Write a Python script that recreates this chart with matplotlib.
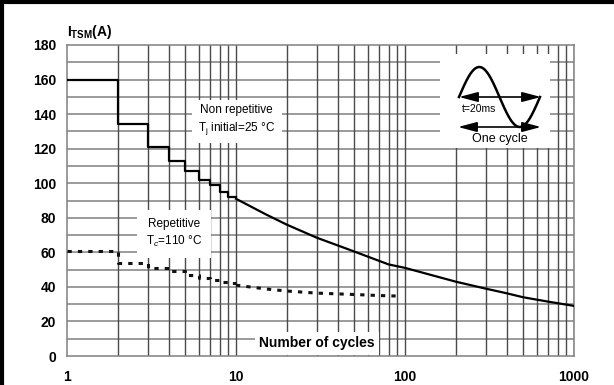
import numpy as np
import matplotlib
matplotlib.use('Agg')
import matplotlib.pyplot as plt
from matplotlib.lines import Line2D

plt.rcParams['font.family'] = ['Liberation Sans', 'DejaVu Sans']
plt.rcParams['mathtext.fontset'] = 'custom'
plt.rcParams['mathtext.rm'] = 'Liberation Sans'
plt.rcParams['mathtext.it'] = 'Liberation Sans:italic'
plt.rcParams['mathtext.bf'] = 'Liberation Sans:bold'

# Non repetitive, Tj initial = 25 °C
nonrep_step_n = [1, 2, 3, 4, 5, 6, 7, 8, 9, 10]
nonrep_step_i = [160, 134, 121, 113, 107, 102, 99, 95, 92, 92]
nonrep_n = [10, 15, 20, 30, 50, 80, 100, 200, 300, 400, 500, 700, 1000]
nonrep_i = [91, 82, 76, 68.5, 60.5, 53, 51, 43, 39, 36.3, 34, 31.5, 29]

# Repetitive, Tc = 110 °C
rep_step_n = [1, 2, 3, 4, 5, 6, 7, 8, 9, 10]
rep_step_i = [61, 54, 51, 49, 47, 45, 44, 43, 42, 42]
rep_n = [10, 15, 20, 30, 50, 70, 90]
rep_i = [41, 38.8, 37.6, 36.4, 35.6, 35.0, 34.7]

x_ticks = [1, 10, 100, 1000]
y_ticks = list(range(0, 181, 20))

fig = plt.figure(figsize=(6.14, 3.85), dpi=100, facecolor='white', edgecolor='white', linewidth=0)
ax = fig.add_axes([67 / 614, 1 - 356 / 385, 507 / 614, 311 / 385])
ax.set_facecolor('white')
ax.set_xscale('log')
ax.set_xlim(1, 1000)
ax.set_ylim(0, 180)

# grid
for v in range(10, 180, 10):
    ax.axhline(v, color='#808080', lw=1.1, zorder=1)
for dec in [1, 10, 100]:
    for k in range(2, 11):
        ax.axvline(dec * k, color='#4a4a4a', lw=1.0, zorder=1)
for s in ax.spines.values():
    s.set_color('#808080')
    s.set_linewidth(1.1)

ax.set_xticks(x_ticks)
ax.set_xticklabels([str(v) for v in x_ticks])
ax.set_xticks([], minor=True)
ax.set_yticks(y_ticks)
ax.tick_params(length=0, labelsize=10, colors='black')
ax.tick_params(axis='x', pad=10)
ax.tick_params(axis='y', pad=8)
for lab in ax.get_xticklabels() + ax.get_yticklabels():
    lab.set_fontweight('bold')

# curves
ax.plot(nonrep_step_n, nonrep_step_i, drawstyle='steps-post', color='black', lw=1.6, zorder=4)
ax.plot(nonrep_n, nonrep_i, color='black', lw=1.6, zorder=4)
ax.plot(rep_step_n, rep_step_i, drawstyle='steps-post', color='#111111', lw=2.2,
        linestyle=(0, (1.4, 2.0)), zorder=4)
ax.plot(rep_n, rep_i, color='#111111', lw=2.2, linestyle=(0, (1.4, 2.0)), zorder=4)

# labels
ax.text(10.1, 136.5, 'Non repetitive\nT$_\\mathrm{j}$ initial=25 °C', ha='center', va='center',
        fontsize=8.5, linespacing=1.35, bbox=dict(facecolor='white', edgecolor='none',
                                                  boxstyle='square,pad=0.55'), zorder=3)
ax.text(4.3, 71, 'Repetitive\nT$_{c}$=110 °C', ha='center', va='center',
        fontsize=8.5, linespacing=1.35, bbox=dict(facecolor='white', edgecolor='none',
                                                  boxstyle='square,pad=0.75'), zorder=3)
ax.text(30.2, 7.3, 'Number of cycles', ha='center', va='center', fontsize=10,
        fontweight='bold', bbox=dict(facecolor='white', edgecolor='none',
                                     boxstyle='square,pad=0.3'), zorder=3)
fig.text(67 / 614, 1 - 32 / 385, r'$\mathbf{I}_{\mathbf{TSM}}$(A)', ha='left', va='center',
         fontsize=10, fontweight='bold', color='black')

# inset sketch of one cycle
ins = fig.add_axes([440 / 614, 1 - 148 / 385, 110 / 614, 94 / 385])
ins.set_xlim(440, 550)
ins.set_ylim(148, 54)
ins.set_facecolor('white')
ins.set_xticks([])
ins.set_yticks([])
for s in ins.spines.values():
    s.set_visible(False)
xs = np.linspace(459, 540, 200)
ins.plot(xs, 97 - 30 * np.sin(2 * np.pi * (xs - 459) / 81), color='black', lw=1.8)
arrow = dict(arrowstyle='<|-|>,head_length=0.95,head_width=0.25', color='black', lw=1.2,
             mutation_scale=12, shrinkA=0, shrinkB=0)
ins.annotate('', xy=(459, 97), xytext=(541, 97), arrowprops=arrow)
ins.annotate('', xy=(458, 127), xytext=(541, 127), arrowprops=arrow)
ins.text(462, 109, 't=20ms', ha='left', va='center', fontsize=7.5)
ins.text(500, 139, 'One cycle', ha='center', va='center', fontsize=9)

# frame on top and left only
fig.add_artist(Line2D([0, 1], [1 - 2 / 385, 1 - 2 / 385], color='black', lw=3,
                      transform=fig.transFigure, solid_capstyle='butt'))
fig.add_artist(Line2D([2 / 614, 2 / 614], [0, 1], color='black', lw=3,
                      transform=fig.transFigure, solid_capstyle='butt'))

fig.savefig('out.png', dpi=100, facecolor='white', edgecolor='white')
